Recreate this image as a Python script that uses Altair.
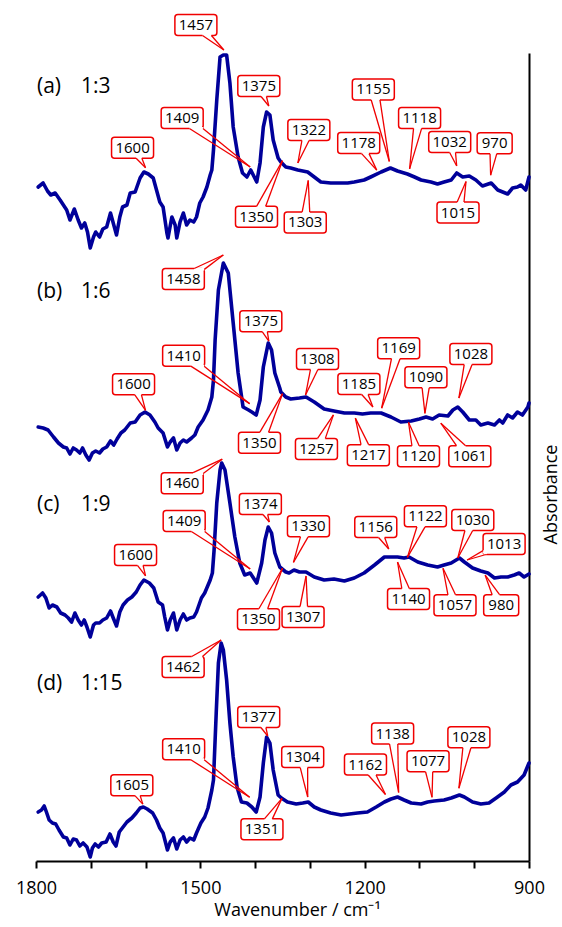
import math
import altair as alt
import numpy as np
import pandas as pd

# ---------------- data ----------------
# wavenumber (cm-1) and absorbance (a.u., spectra stacked with offsets)
wn_a = [1796, 1787, 1779, 1773, 1765, 1756, 1750, 1744, 1738, 1730,
        1723, 1717, 1711, 1706, 1701, 1695, 1691, 1684, 1678, 1671,
        1664, 1658, 1653, 1647, 1642, 1634, 1628, 1619, 1610, 1603,
        1595, 1586, 1580, 1574, 1568, 1561, 1559, 1552, 1546, 1543,
        1537, 1531, 1525, 1519, 1512, 1507, 1501, 1495, 1488, 1482,
        1479, 1476, 1470, 1464, 1458, 1452, 1446, 1440, 1431, 1423,
        1415, 1408, 1397, 1391, 1385, 1379, 1373, 1367, 1358, 1353,
        1344, 1335, 1322, 1304, 1292, 1280, 1262, 1243, 1231, 1219,
        1201, 1189, 1170, 1153, 1140, 1122, 1109, 1097, 1079, 1067,
        1055, 1042, 1032, 1021, 1009, 997, 985, 969, 957, 939,
        930, 921, 915, 906, 900]
ab_a = [6.74, 6.78, 6.70, 6.66, 6.68, 6.61, 6.56, 6.51, 6.41, 6.52,
        6.41, 6.33, 6.38, 6.29, 6.13, 6.24, 6.29, 6.24, 6.32, 6.34,
        6.48, 6.36, 6.26, 6.44, 6.54, 6.56, 6.68, 6.69, 6.83, 6.89,
        6.87, 6.83, 6.71, 6.59, 6.54, 6.28, 6.23, 6.44, 6.36, 6.23,
        6.39, 6.48, 6.36, 6.41, 6.39, 6.44, 6.58, 6.64, 6.74, 6.86,
        6.91, 7.11, 7.61, 8.04, 8.06, 8.06, 7.78, 7.34, 7.04, 6.88,
        6.84, 6.91, 6.79, 6.98, 7.34, 7.49, 7.46, 7.21, 7.03, 6.99,
        6.94, 6.93, 6.91, 6.89, 6.84, 6.79, 6.78, 6.78, 6.78, 6.79,
        6.81, 6.84, 6.89, 6.93, 6.90, 6.87, 6.84, 6.81, 6.79, 6.77,
        6.79, 6.81, 6.88, 6.84, 6.85, 6.81, 6.75, 6.78, 6.71, 6.67,
        6.73, 6.74, 6.76, 6.71, 6.84]

wn_b = [1796, 1787, 1778, 1768, 1759, 1750, 1744, 1738, 1732, 1726,
        1720, 1715, 1709, 1703, 1697, 1691, 1684, 1678, 1671, 1664,
        1658, 1652, 1645, 1638, 1628, 1619, 1610, 1601, 1592, 1583,
        1577, 1568, 1560, 1555, 1549, 1543, 1537, 1531, 1525, 1516,
        1510, 1504, 1495, 1486, 1479, 1476, 1473, 1467, 1458, 1449,
        1440, 1431, 1422, 1412, 1406, 1398, 1391, 1385, 1376, 1370,
        1364, 1355, 1353, 1344, 1335, 1319, 1307, 1292, 1274, 1256,
        1237, 1219, 1204, 1189, 1170, 1152, 1134, 1115, 1100, 1088,
        1076, 1064, 1048, 1039, 1030, 1021, 1009, 997, 988, 975,
        963, 954, 948, 939, 930, 921, 912, 902, 900]
ab_b = [4.34, 4.33, 4.31, 4.24, 4.18, 4.14, 4.13, 4.07, 4.13, 4.11,
        4.08, 4.13, 4.06, 4.01, 4.08, 4.10, 4.08, 4.12, 4.14, 4.20,
        4.16, 4.22, 4.28, 4.31, 4.38, 4.39, 4.46, 4.49, 4.46, 4.39,
        4.33, 4.28, 4.14, 4.19, 4.23, 4.11, 4.18, 4.21, 4.19, 4.23,
        4.26, 4.34, 4.41, 4.51, 4.64, 4.81, 5.21, 5.71, 5.98, 5.88,
        5.38, 4.88, 4.54, 4.51, 4.49, 4.46, 4.61, 4.94, 5.18, 5.11,
        4.88, 4.73, 4.69, 4.64, 4.62, 4.63, 4.64, 4.59, 4.52, 4.50,
        4.48, 4.48, 4.47, 4.48, 4.48, 4.44, 4.39, 4.40, 4.42, 4.44,
        4.42, 4.46, 4.45, 4.51, 4.54, 4.49, 4.41, 4.41, 4.36, 4.38,
        4.36, 4.41, 4.38, 4.46, 4.43, 4.49, 4.46, 4.54, 4.58]

wn_c = [1796, 1788, 1782, 1776, 1770, 1762, 1755, 1747, 1741, 1735,
        1729, 1723, 1717, 1712, 1707, 1701, 1695, 1691, 1684, 1678,
        1671, 1664, 1659, 1653, 1647, 1641, 1633, 1625, 1617, 1610,
        1603, 1593, 1585, 1577, 1569, 1565, 1560, 1555, 1549, 1543,
        1537, 1531, 1525, 1519, 1512, 1507, 1498, 1492, 1482, 1478,
        1475, 1470, 1464, 1461, 1455, 1446, 1437, 1428, 1419, 1409,
        1397, 1388, 1382, 1376, 1370, 1364, 1355, 1344, 1338, 1329,
        1319, 1307, 1292, 1274, 1256, 1237, 1219, 1201, 1182, 1164,
        1152, 1140, 1128, 1119, 1103, 1085, 1067, 1055, 1042, 1027,
        1018, 1003, 988, 975, 963, 951, 939, 927, 918, 909,
        900]
ab_c = [2.64, 2.68, 2.63, 2.53, 2.56, 2.54, 2.48, 2.46, 2.43, 2.39,
        2.48, 2.41, 2.36, 2.41, 2.34, 2.24, 2.36, 2.38, 2.38, 2.41,
        2.43, 2.50, 2.43, 2.35, 2.49, 2.56, 2.61, 2.64, 2.69, 2.76,
        2.81, 2.78, 2.73, 2.59, 2.56, 2.44, 2.31, 2.41, 2.48, 2.31,
        2.41, 2.47, 2.41, 2.43, 2.44, 2.49, 2.63, 2.68, 2.81, 2.88,
        3.10, 3.58, 3.91, 3.98, 3.91, 3.58, 3.24, 2.98, 2.86, 2.88,
        2.78, 2.98, 3.21, 3.34, 3.28, 3.08, 2.94, 2.89, 2.88, 2.91,
        2.89, 2.89, 2.84, 2.81, 2.82, 2.80, 2.83, 2.88, 2.96, 3.04,
        3.04, 3.04, 3.03, 3.04, 2.99, 2.96, 2.94, 2.96, 2.98, 3.03,
        2.99, 2.93, 2.90, 2.88, 2.83, 2.84, 2.84, 2.86, 2.88, 2.84,
        2.87]

wn_d = [1796, 1790, 1785, 1781, 1776, 1770, 1764, 1758, 1750, 1744,
        1738, 1732, 1726, 1720, 1714, 1707, 1701, 1697, 1692, 1686,
        1680, 1672, 1665, 1659, 1654, 1648, 1641, 1634, 1625, 1617,
        1610, 1604, 1597, 1587, 1580, 1574, 1568, 1560, 1555, 1549,
        1543, 1537, 1531, 1525, 1519, 1512, 1507, 1499, 1492, 1486,
        1479, 1476, 1471, 1467, 1462, 1458, 1452, 1446, 1440, 1433,
        1425, 1415, 1406, 1398, 1391, 1385, 1379, 1373, 1367, 1358,
        1352, 1341, 1325, 1313, 1303, 1292, 1280, 1262, 1243, 1228,
        1213, 1195, 1179, 1164, 1152, 1140, 1128, 1115, 1097, 1085,
        1073, 1055, 1042, 1027, 1018, 1003, 988, 973, 960, 945,
        933, 921, 909, 900]
ab_d = [0.49, 0.51, 0.55, 0.49, 0.41, 0.38, 0.37, 0.31, 0.24, 0.23,
        0.16, 0.22, 0.21, 0.15, 0.18, 0.14, 0.04, 0.13, 0.17, 0.14,
        0.18, 0.19, 0.27, 0.19, 0.15, 0.29, 0.34, 0.39, 0.43, 0.48,
        0.53, 0.54, 0.52, 0.48, 0.41, 0.33, 0.28, 0.11, 0.19, 0.23,
        0.12, 0.21, 0.24, 0.19, 0.23, 0.21, 0.28, 0.38, 0.44, 0.53,
        0.71, 0.81, 1.48, 1.98, 2.18, 2.11, 1.81, 1.38, 1.04, 0.74,
        0.59, 0.58, 0.54, 0.49, 0.64, 0.98, 1.24, 1.18, 0.91, 0.66,
        0.63, 0.59, 0.57, 0.58, 0.59, 0.54, 0.51, 0.48, 0.46, 0.47,
        0.48, 0.49, 0.54, 0.59, 0.62, 0.64, 0.61, 0.58, 0.57, 0.59,
        0.60, 0.61, 0.63, 0.66, 0.64, 0.59, 0.57, 0.58, 0.63, 0.69,
        0.76, 0.79, 0.86, 0.98]

# panel captions
panel_letters = ["(a)", "(b)", "(c)", "(d)"]
panel_ratios = ["1:3", "1:6", "1:9", "1:15"]

# peak labels (cm-1) of each spectrum
peaks_a = ["1457", "1375", "1409", "1600", "1350", "1322", "1303",
           "1178", "1155", "1118", "1032", "970", "1015"]
peaks_b = ["1458", "1375", "1410", "1600", "1350", "1308", "1257",
           "1185", "1169", "1217", "1090", "1120", "1028", "1061"]
peaks_c = ["1460", "1374", "1409", "1600", "1350", "1330", "1307",
           "1156", "1122", "1030", "1013", "1140", "1057", "980"]
peaks_d = ["1462", "1377", "1410", "1605", "1351", "1304", "1162",
           "1138", "1077", "1028"]

# ---------------- layout (pixels) ----------------
W, H = 493, 808
X_DOM = [1800, 900]
Y_DOM = [0.0, 8.08]
PXX = W / (X_DOM[0] - X_DOM[1])
PXY = H / (Y_DOM[1] - Y_DOM[0])

# callout: (box centre dx, dy relative to the tip, tip gap above the curve)
callout_a = [(-28, -25, 5), (-10, -20, 8), (-68, -49, 4), (-13, -20, 5),
             (-26, 56, 3), (11, -33, 7), (-3, 42, -8), (-18, -27, 4),
             (-16, -72, 7), (10, -51, 6), (-7, -24, 7), (4, -32, 8),
             (-8, 31, -5)]
callout_b = [(-40, 24, 8), (-8, -20, 3), (-66, -48, 7), (-12, -26, 2),
             (-23, 49, 0), (12, -36, 2), (-17, 34, -4), (-14, -23, 6),
             (17, -60, 5), (13, 37, -5), (1, -36, 4), (10, 34, -1),
             (12, -44, 10), (29, 33, -8)]
callout_c = [(-40, 24, 5), (-9, -18, 7), (-66, -48, 4), (-10, -21, 5),
             (-24, 51, 1), (15, -36, 8), (-3, 41, -4), (-13, -22, 8),
             (18, -41, 0), (15, -38, 1), (37, -16, 4), (11, 37, -5),
             (12, 37, -3), (16, 30, -3)]
callout_d = [(-38, 27, 3), (-9, -19, 3), (-66, -48, 8), (-11, -19, 3),
             (-20, 31, 0), (-5, -40, 5), (-20, -30, 7), (-6, -59, 5),
             (-4, -36, 4), (10, -51, 7)]
# caption y (absorbance units) and x offsets (px from left edge)
panel_y = [7.74, 5.69, 3.56, 1.77]
letter_px, ratio_px = 1, 45

BLUE = "#00009A"
RED = "#F00000"
FONT = "Open Sans"

traces = [("a", wn_a, ab_a, peaks_a, callout_a),
          ("b", wn_b, ab_b, peaks_b, callout_b),
          ("c", wn_c, ab_c, peaks_c, callout_c),
          ("d", wn_d, ab_d, peaks_d, callout_d)]

spec_df = pd.concat([pd.DataFrame({"wn": w, "A": a, "trace": t})
                     for t, w, a, _, _ in traces], ignore_index=True)

box_rows, tail_rows, plug_rows, text_rows = [], [], [], []
for t, wns, vals, labels, lay in traces:
    xs = np.array(wns[::-1], float)
    ys = np.array(vals[::-1], float)
    for lab, (dx, dy, gap) in zip(labels, lay):
        w = float(lab)
        tipA = float(np.interp(w, xs, ys)) + gap / PXY

        def to_data(px, py):
            return (w - px / PXX, tipA - py / PXY)

        hw = 21.0 if len(lab) == 4 else 17.5
        hh = 10.5
        cx, cy = float(dx), float(dy)
        x1, y1 = to_data(cx - hw, cy - hh)
        x2, y2 = to_data(cx + hw, cy + hh)
        box_rows.append({"x1": x1, "x2": x2, "y1": y1, "y2": y2})
        bxw, byw = to_data(cx, cy)
        text_rows.append({"x": bxw, "y": byw, "label": lab})
        L = math.hypot(cx, cy)
        ux, uy = -cx / L, -cy / L
        nx, ny = -uy, ux
        exits = []
        for s in (-1, 1):
            bx, by = cx + s * 5 * nx, cy + s * 5 * ny
            tx, ty = -bx, -by
            ts = []
            if tx > 0:
                ts.append((cx + hw - bx) / tx)
            elif tx < 0:
                ts.append((cx - hw - bx) / tx)
            if ty > 0:
                ts.append((cy + hh - by) / ty)
            elif ty < 0:
                ts.append((cy - hh - by) / ty)
            tt = min(ts)
            exits.append((bx + tt * tx, by + tt * ty))
        for ex, ey in exits:
            ax, ay = to_data(ex, ey)
            tail_rows.append({"x1": ax, "y1": ay, "x2": w, "y2": tipA})
        (e1x, e1y), (e2x, e2y) = exits
        p1 = to_data(e1x, e1y)
        p2 = to_data(e2x, e2y)
        plug_rows.append({"x1": p1[0], "y1": p1[1], "x2": p2[0], "y2": p2[1]})

box_df = pd.DataFrame(box_rows)
tail_df = pd.DataFrame(tail_rows)
plug_df = pd.DataFrame(plug_rows)
text_df = pd.DataFrame(text_rows)
cap_df = pd.DataFrame({
    "letter": panel_letters, "ratio": panel_ratios, "y": panel_y,
    "xl": [X_DOM[0] - letter_px / PXX] * 4,
    "xr": [X_DOM[0] - ratio_px / PXX] * 4,
})

xscale = alt.Scale(domain=X_DOM, nice=False, zero=False)
yscale = alt.Scale(domain=Y_DOM, nice=False, zero=False)
xaxis = alt.Axis(values=list(range(900, 1801, 100)), format="d",
                 labelExpr="datum.value % 300 === 0 ? datum.label : ''",
                 domainColor="black", domainWidth=2, tickColor="black",
                 tickWidth=2, tickSize=7, labelFont=FONT, labelFontSize=18,
                 labelColor="black", labelPadding=11, labelFlush=False,
                 title="Wavenumber / cm\u207b\u00b9", titleFont=FONT,
                 titleFontSize=18, titleFontWeight="normal",
                 titleColor="black", titlePadding=4, titleX=261,
                 titleAlign="center", grid=False)
yaxis = alt.Axis(orient="right", ticks=False, labels=False,
                 domainColor="black", domainWidth=2, title="Absorbance",
                 titleFont=FONT, titleFontSize=18, titleFontWeight="normal",
                 titleColor="black", titleAngle=270, titleX=22, titleY=441,
                 titleAlign="center", titleBaseline="middle", grid=False)


def X(f):
    return alt.X(f"{f}:Q", scale=xscale, axis=xaxis)


def Y(f):
    return alt.Y(f"{f}:Q", scale=yscale, axis=yaxis)


spectra = alt.Chart(spec_df).mark_line(
    color=BLUE, strokeWidth=3.6, strokeJoin="round", strokeCap="round"
).encode(x=X("wn"), y=Y("A"), detail="trace:N")

boxes = alt.Chart(box_df).mark_rect(
    fill="white", stroke=RED, strokeWidth=1.5, cornerRadius=3
).encode(x=X("x1"), x2="x2:Q", y=Y("y1"), y2="y2:Q")

plugs = alt.Chart(plug_df).mark_rule(color="white", strokeWidth=3).encode(
    x=X("x1"), x2="x2:Q", y=Y("y1"), y2="y2:Q")

tails = alt.Chart(tail_df).mark_rule(color=RED, strokeWidth=1.3).encode(
    x=X("x1"), x2="x2:Q", y=Y("y1"), y2="y2:Q")

texts = alt.Chart(text_df).mark_text(
    font=FONT, fontSize=15, color="black", baseline="middle", align="center"
).encode(x=X("x"), y=Y("y"), text="label:N")

letters = alt.Chart(cap_df).mark_text(
    font=FONT, fontSize=21, color="black", baseline="middle", align="left"
).encode(x=X("xl"), y=Y("y"), text="letter:N")

ratios = alt.Chart(cap_df).mark_text(
    font=FONT, fontSize=21, color="black", baseline="middle", align="left"
).encode(x=X("xr"), y=Y("y"), text="ratio:N")

chart = alt.layer(spectra, boxes, plugs, tails, texts, letters, ratios).properties(
    width=W, height=H,
    autosize=alt.AutoSizeParams(type="none"),
    padding={"left": 36, "top": 53, "right": 33, "bottom": 66},
).configure_view(strokeWidth=0)

chart.save("out.html", embed_options={"renderer": "svg", "actions": False})
